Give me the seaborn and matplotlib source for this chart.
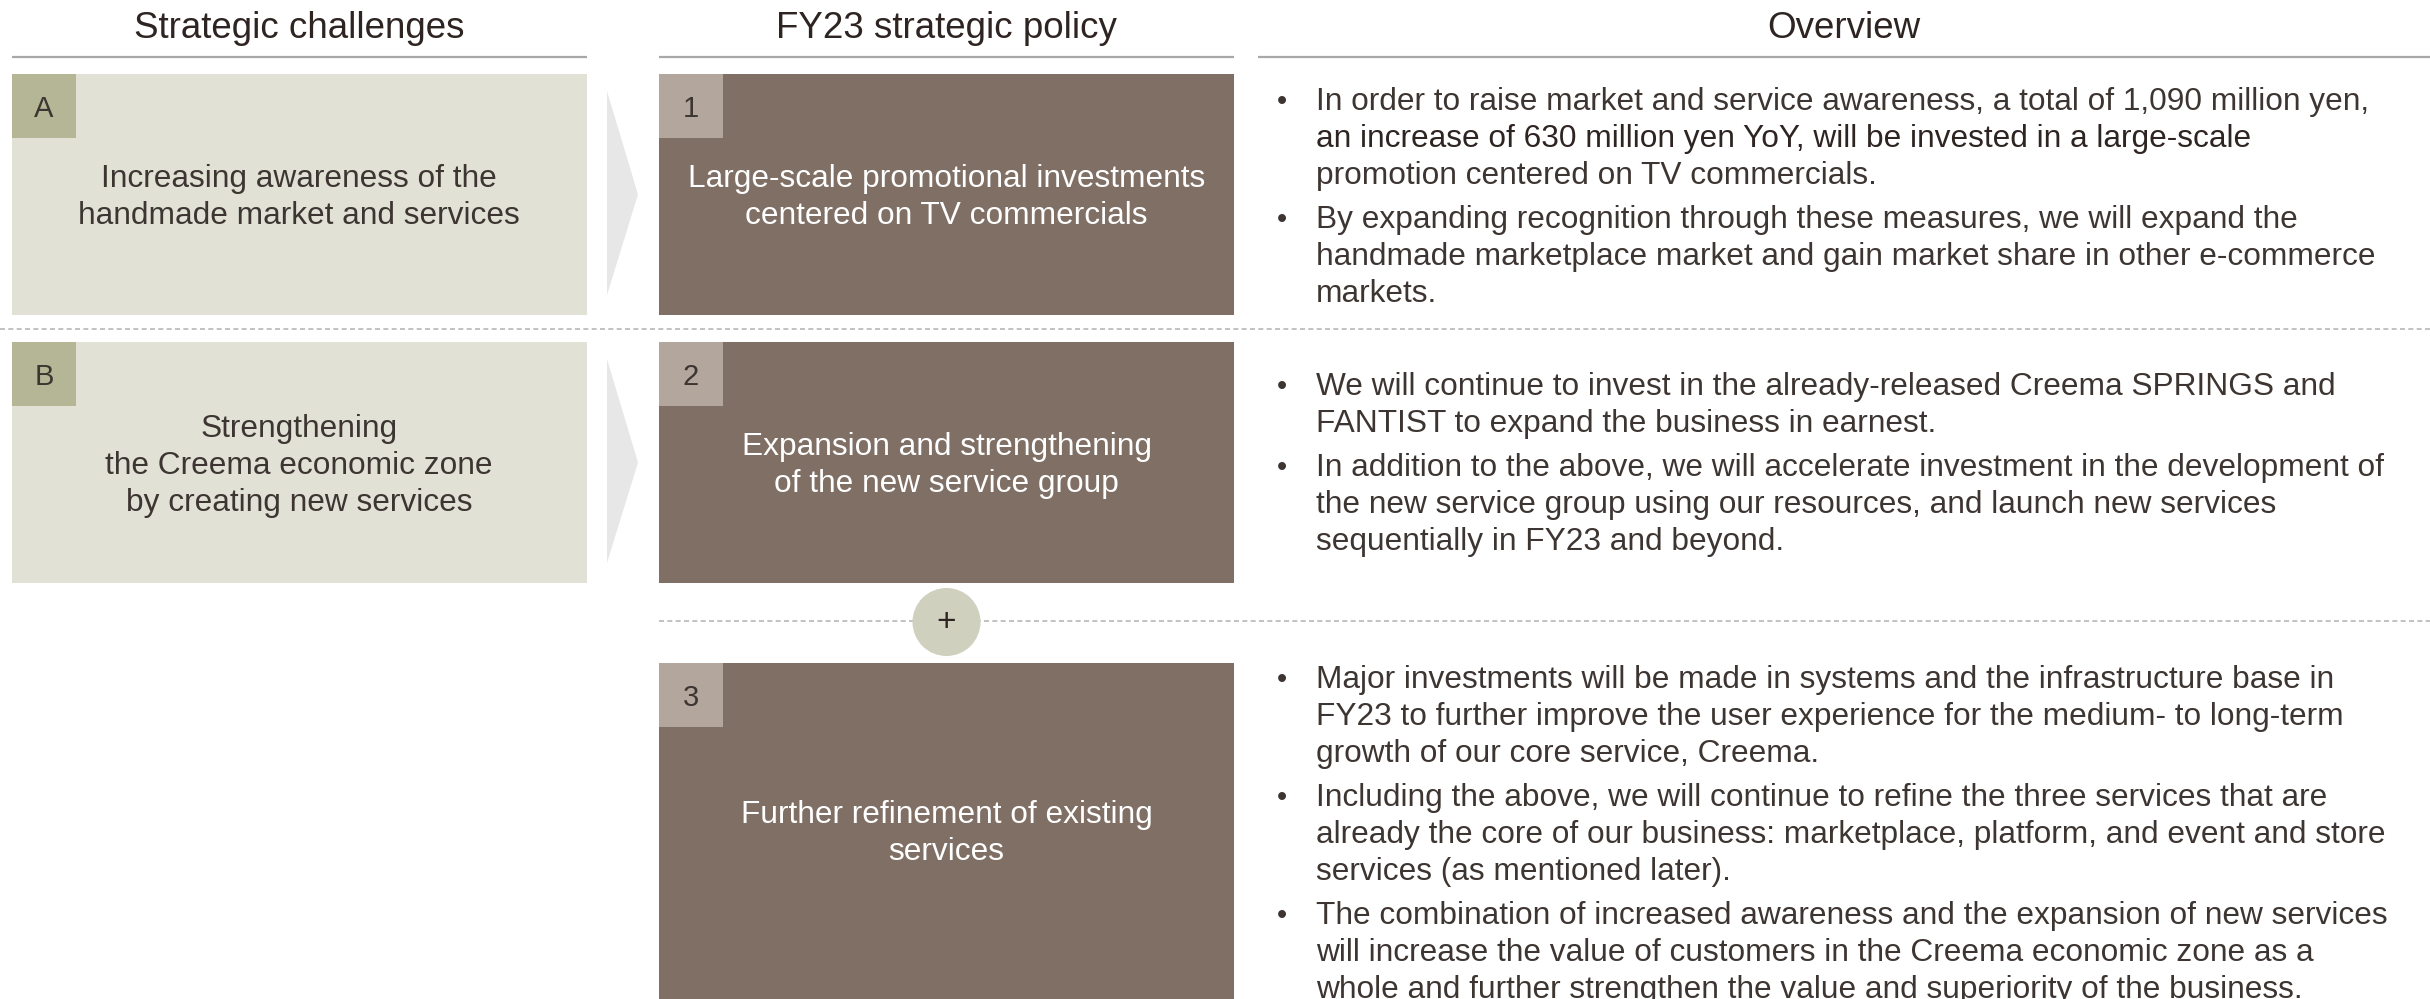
import matplotlib
matplotlib.use("Agg")
import matplotlib.pyplot as plt
import matplotlib.patches as mpatches
import seaborn as sns

# ---- content ----
headers = ['Strategic challenges', 'FY23 strategic policy', 'Overview']
challenge_labels = ['A', 'B']
challenge_texts = [
    'Increasing awareness of the\nhandmade market and services',
    'Strengthening\nthe Creema economic zone\nby creating new services',
]
policy_numbers = ['1', '2', '3']
policy_texts = [
    'Large-scale promotional investments\ncentered on TV commercials',
    'Expansion and strengthening\nof the new service group',
    'Further refinement of existing\nservices',
]
overview_1 = [
    'In order to raise market and service awareness, a total of 1,090 million yen,\n'
    'an increase of 630 million yen YoY, will be invested in a large-scale\n'
    'promotion centered on TV commercials.',
    'By expanding recognition through these measures, we will expand the\n'
    'handmade marketplace market and gain market share in other e-commerce\n'
    'markets.',
]
overview_2 = [
    'We will continue to invest in the already-released Creema SPRINGS and\n'
    'FANTIST to expand the business in earnest.',
    'In addition to the above, we will accelerate investment in the development of\n'
    'the new service group using our resources, and launch new services\n'
    'sequentially in FY23 and beyond.',
]
overview_3 = [
    'Major investments will be made in systems and the infrastructure base in\n'
    'FY23 to further improve the user experience for the medium- to long-term\n'
    'growth of our core service, Creema.',
    'Including the above, we will continue to refine the three services that are\n'
    'already the core of our business: marketplace, platform, and event and store\n'
    'services (as mentioned later).',
    'The combination of increased awareness and the expansion of new services\n'
    'will increase the value of customers in the Creema economic zone as a\n'
    'whole and further strengthen the value and superiority of the business.',
]
overviews = [overview_1, overview_2, overview_3]

# ---- style ----
sns.set_theme(style='white')
plt.rcParams['font.family'] = ['Liberation Sans', 'DejaVu Sans']

TEXT = '#3d3531'
DARK = '#2e2522'
CH_FILL = '#e1e1d6'
CH_TAG = '#b4b696'
PO_FILL = '#7f6f65'
PO_TAG = '#b3a69d'
ARROW = '#e7e7e7'
PLUS = '#cfd0be'
RULE = '#a8a8a8'
DASH = '#b8b8b8'
LINE_H = 37
BODY = 22.8
DY = 3  # nudge text down to match visual centres

fig = plt.figure(figsize=(24.3, 9.99), dpi=100)
ax = fig.add_axes([0, 0, 1, 1])
ax.set_xlim(0, 2430)
ax.set_ylim(999, 0)
ax.axis('off')


def lines_centered(x, yc, text, color, size):
    rows = text.split('\n')
    y0 = yc - (len(rows) - 1) * LINE_H / 2 + DY
    for i, r in enumerate(rows):
        ax.text(x, y0 + i * LINE_H, r, ha='center', va='center',
                color=color, fontsize=size)


# headers
cols = [(12, 587), (659, 1234), (1258, 2430)]
for (x0, x1), h in zip(cols, headers):
    ax.text((x0 + x1) / 2, 26 + DY, h, ha='center', va='center', fontsize=26.5, color=DARK)
    ax.plot([x0, x1], [57, 57], color=RULE, lw=1.6, solid_capstyle='butt')

# dashed separators
ax.plot([0, 2430], [329, 329], color=DASH, lw=1.2, ls=(0, (3, 2)))
ax.plot([659, 2430], [621, 621], color=DASH, lw=1.2, ls=(0, (3, 2)))

TAG = 64
rows_y = [(74, 315), (342, 583), (663, 999)]

# challenge boxes + arrows
for i, (lab, txt) in enumerate(zip(challenge_labels, challenge_texts)):
    y0, y1 = rows_y[i]
    ax.add_patch(mpatches.Rectangle((12, y0), 575, y1 - y0, color=CH_FILL, lw=0))
    ax.add_patch(mpatches.Rectangle((12, y0), TAG, TAG, color=CH_TAG, lw=0))
    ax.text(12 + TAG / 2, y0 + TAG / 2 + DY, lab, ha='center', va='center', fontsize=21, color=TEXT)
    lines_centered(299, (y0 + y1) / 2, txt, TEXT, BODY)
    ym = (y0 + y1) / 2
    ax.add_patch(mpatches.Polygon([(607, y0 + 17), (638, ym), (607, y1 - 20)],
                                  closed=True, color=ARROW, lw=0))

# policy boxes
for i, (num, txt) in enumerate(zip(policy_numbers, policy_texts)):
    y0, y1 = rows_y[i]
    ax.add_patch(mpatches.Rectangle((659, y0), 575, y1 - y0, color=PO_FILL, lw=0))
    ax.add_patch(mpatches.Rectangle((659, y0), TAG, TAG, color=PO_TAG, lw=0))
    ax.text(659 + TAG / 2, y0 + TAG / 2 + DY, num, ha='center', va='center', fontsize=21, color=TEXT)
    lines_centered(946.5, (y0 + y1) / 2, txt, 'white', BODY)

# plus circle
ax.add_patch(mpatches.Circle((946.5, 622), 34, color=PLUS, lw=0, zorder=3))
ax.text(946.5, 622, '+', ha='center', va='center', fontsize=24, color=DARK, zorder=4)

# overview bullets
first_line = [99, 384, 677]
for items, yf in zip(overviews, first_line):
    k = 0
    for b, item in enumerate(items):
        for j, row in enumerate(item.split('\n')):
            y = yf + k * LINE_H + b * 7 + DY
            if j == 0:
                ax.text(1282, y, '\u2022', ha='center', va='center', fontsize=21, color=TEXT)
            col = DARK if row.startswith('an increase of 630') else TEXT
            ax.text(1316, y, row, ha='left', va='center', fontsize=BODY, color=col)
            k += 1

fig.savefig('out.png', dpi=100)
